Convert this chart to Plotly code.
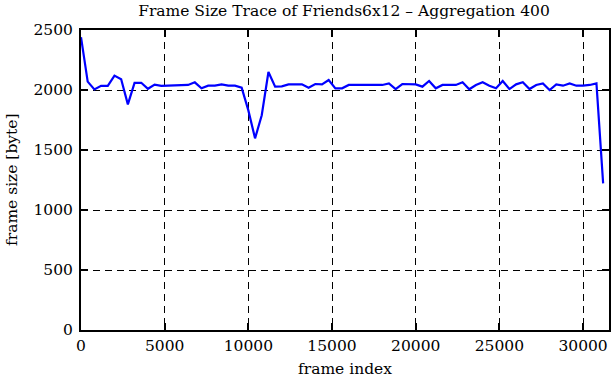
import plotly.graph_objects as go

frames = [0, 400, 800, 1200, 1600, 2000, 2400, 2800, 3200, 3600, 4000, 4400, 4800, 5200,
          5600, 6000, 6400, 6800, 7200, 7600, 8000, 8400, 8800, 9200, 9600, 10000, 10400,
          10800, 11200, 11600, 12000, 12400, 12800, 13200, 13600, 14000, 14400, 14800,
          15200, 15600, 16000, 16400, 16800, 17200, 17600, 18000, 18400, 18800, 19200,
          19600, 20000, 20400, 20800, 21200, 21600, 22000, 22400, 22800, 23200, 23600,
          24000, 24400, 24800, 25200, 25600, 26000, 26400, 26800, 27200, 27600, 28000,
          28400, 28800, 29200, 29600, 30000, 30400, 30800, 31200]
sizes = [2440, 2070, 2005, 2035, 2035, 2120, 2090, 1880, 2060, 2060, 2010, 2045, 2035, 2035,
         2040, 2040, 2042, 2064, 2014, 2036, 2036, 2047, 2036, 2036, 2020, 1830, 1597,
         1790, 2150, 2028, 2030, 2047, 2047, 2047, 2019, 2050, 2047, 2083,
         2014, 2014, 2042, 2042, 2042, 2042, 2036, 2042, 2055, 2008, 2050,
         2047, 2047, 2028, 2075, 2014, 2042, 2042, 2042, 2064, 2006, 2042,
         2064, 2036, 2014, 2075, 2008, 2047, 2064, 2008, 2042, 2055, 2000,
         2047, 2036, 2055, 2036, 2036, 2042, 2055, 1222]

x_ticks = [0, 5000, 10000, 15000, 20000, 25000, 30000]
y_ticks = [0, 500, 1000, 1500, 2000, 2500]

font = "DejaVu Serif, Liberation Serif, serif"
fsize = 15.5

fig = go.Figure()
fig.add_trace(go.Scatter(x=frames, y=sizes, mode="lines",
                         line=dict(color="#0000ff", width=2.2)))

axis_common = dict(
    showline=True, linecolor="black", linewidth=2, mirror="allticks",
    ticks="inside", ticklen=7, tickwidth=1.5, tickcolor="black",
    showgrid=True, gridcolor="black", gridwidth=1, griddash="7px,5px",
    zeroline=False, automargin=False,
    tickfont=dict(family=font, size=fsize, color="black"),
)

fig.update_xaxes(range=[0, 31550], tickvals=x_ticks,
                 ticktext=[str(v) for v in x_ticks],
                 title=dict(text="frame index", font=dict(family=font, size=fsize, color="black"),
                            standoff=10),
                 **axis_common)
fig.update_yaxes(range=[0, 2500], tickvals=y_ticks,
                 ticktext=[str(v) for v in y_ticks],
                 ticklabelstandoff=3,
                 **axis_common)

fig.add_annotation(text="frame size [byte]", xref="paper", yref="paper",
                   x=(12 - 81) / 528, y=0.5, xanchor="center", yanchor="middle",
                   textangle=-90, showarrow=False,
                   font=dict(family=font, size=fsize, color="black"))

fig.update_layout(
    width=611, height=380,
    margin=dict(l=81, r=2, t=30, b=50),
    paper_bgcolor="white", plot_bgcolor="white",
    showlegend=False,
    title=dict(text="Frame Size Trace of Friends6x12 – Aggregation 400",
               font=dict(family=font, size=fsize, color="black"),
               x=344 / 611, xanchor="center", y=1 - 11 / 380, yanchor="middle"),
)

fig.write_html("out.html", config={"displayModeBar": False},
               post_script="document.body.style.margin='0';document.body.style.padding='0';")
